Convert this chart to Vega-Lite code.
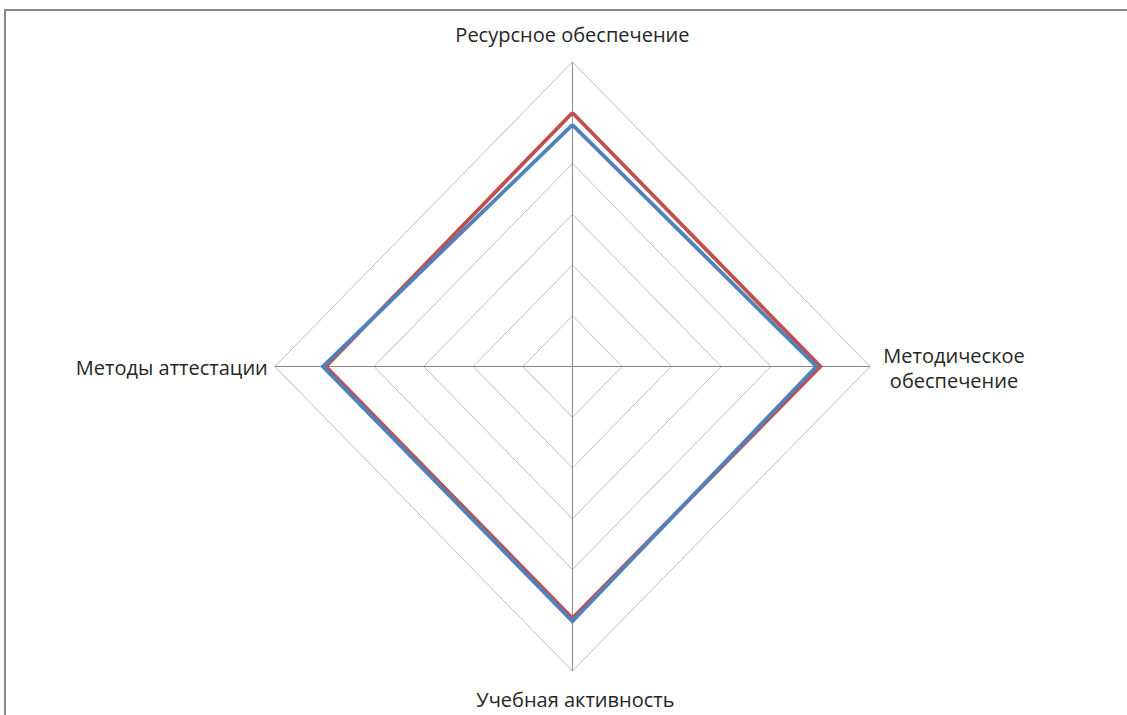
{
  "$schema": "https://vega.github.io/schema/vega-lite/v6.json",
  "width": 1128,
  "height": 711,
  "padding": {"left": 5, "top": 10, "right": -6, "bottom": -6},
  "autosize": {"type": "none"},
  "background": "white",
  "config": {
    "view": {"stroke": "#898989", "strokeWidth": 2},
    "font": "Open Sans"
  },
  "datasets": {
    "grid": [
      {"ring": 1, "k": 0}, {"ring": 1, "k": 1}, {"ring": 1, "k": 2}, {"ring": 1, "k": 3}, {"ring": 1, "k": 4},
      {"ring": 2, "k": 0}, {"ring": 2, "k": 1}, {"ring": 2, "k": 2}, {"ring": 2, "k": 3}, {"ring": 2, "k": 4},
      {"ring": 3, "k": 0}, {"ring": 3, "k": 1}, {"ring": 3, "k": 2}, {"ring": 3, "k": 3}, {"ring": 3, "k": 4},
      {"ring": 4, "k": 0}, {"ring": 4, "k": 1}, {"ring": 4, "k": 2}, {"ring": 4, "k": 3}, {"ring": 4, "k": 4},
      {"ring": 5, "k": 0}, {"ring": 5, "k": 1}, {"ring": 5, "k": 2}, {"ring": 5, "k": 3}, {"ring": 5, "k": 4},
      {"ring": 6, "k": 0}, {"ring": 6, "k": 1}, {"ring": 6, "k": 2}, {"ring": 6, "k": 3}, {"ring": 6, "k": 4}
    ],
    "spokes": [
      {"k": 0, "r": 0}, {"k": 0, "r": 6},
      {"k": 1, "r": 0}, {"k": 1, "r": 6},
      {"k": 2, "r": 0}, {"k": 2, "r": 6},
      {"k": 3, "r": 0}, {"k": 3, "r": 6}
    ],
    "series": [
      {"series": "Ряд1", "k": 0, "value": 5.0},
      {"series": "Ряд1", "k": 1, "value": 5.0},
      {"series": "Ряд1", "k": 2, "value": 4.96},
      {"series": "Ряд1", "k": 3, "value": 4.97},
      {"series": "Ряд1", "k": 4, "value": 5.0},
      {"series": "Ряд2", "k": 0, "value": 4.76},
      {"series": "Ряд2", "k": 1, "value": 4.92},
      {"series": "Ряд2", "k": 2, "value": 5.02},
      {"series": "Ряд2", "k": 3, "value": 5.03},
      {"series": "Ряд2", "k": 4, "value": 4.76}
    ],
    "labels": [
      {"k": 0, "r": 6, "label": "Ресурсное обеспечение"},
      {"k": 1, "r": 6, "label": "Методическое\nобеспечение"},
      {"k": 2, "r": 6, "label": "Учебная активность"},
      {"k": 3, "r": 6, "label": "Методы аттестации"}
    ]
  },
  "layer": [
    {
      "data": {"name": "grid"},
      "transform": [
        {"calculate": "datum.ring * sin(datum.k * PI / 2)", "as": "px"},
        {"calculate": "datum.ring * cos(datum.k * PI / 2)", "as": "py"}
      ],
      "mark": {"type": "line", "stroke": "#bfbfbf", "strokeWidth": 1},
      "encoding": {
        "x": {"field": "px", "type": "quantitative", "scale": {"domain": [-11.44, 11.302], "nice": false, "zero": false}, "axis": null},
        "y": {"field": "py", "type": "quantitative", "scale": {"domain": [-6.985, 7.025], "nice": false, "zero": false}, "axis": null},
        "detail": {"field": "ring", "type": "nominal"},
        "order": {"field": "k", "type": "quantitative"}
      }
    },
    {
      "data": {"name": "spokes"},
      "transform": [
        {"calculate": "datum.r * sin(datum.k * PI / 2)", "as": "px"},
        {"calculate": "datum.r * cos(datum.k * PI / 2)", "as": "py"}
      ],
      "mark": {"type": "line", "stroke": "#868686", "strokeWidth": 1},
      "encoding": {
        "x": {"field": "px", "type": "quantitative", "axis": null},
        "y": {"field": "py", "type": "quantitative", "axis": null},
        "detail": {"field": "k", "type": "nominal"},
        "order": {"field": "r", "type": "quantitative"}
      }
    },
    {
      "data": {"name": "series"},
      "transform": [
        {"calculate": "datum.value * sin(datum.k * PI / 2)", "as": "px"},
        {"calculate": "datum.value * cos(datum.k * PI / 2)", "as": "py"}
      ],
      "mark": {"type": "line", "strokeWidth": 3.8, "strokeJoin": "miter"},
      "encoding": {
        "x": {"field": "px", "type": "quantitative", "axis": null},
        "y": {"field": "py", "type": "quantitative", "axis": null},
        "color": {"field": "series", "type": "nominal", "scale": {"domain": ["Ряд1", "Ряд2"], "range": ["#c0504d", "#4f81bd"]}, "legend": null},
        "order": {"field": "k", "type": "quantitative"}
      }
    },
    {
      "data": {"name": "labels"},
      "transform": [
        {"filter": "datum.k == 0"},
        {"calculate": "datum.r * sin(datum.k * PI / 2)", "as": "px"},
        {"calculate": "datum.r * cos(datum.k * PI / 2)", "as": "py"}
      ],
      "mark": {"type": "text", "align": "center", "baseline": "alphabetic", "dy": -20, "fontSize": 20, "color": "#262626"},
      "encoding": {
        "x": {"field": "px", "type": "quantitative", "axis": null},
        "y": {"field": "py", "type": "quantitative", "axis": null},
        "text": {"field": "label"}
      }
    },
    {
      "data": {"name": "labels"},
      "transform": [
        {"filter": "datum.k == 2"},
        {"calculate": "datum.r * sin(datum.k * PI / 2)", "as": "px"},
        {"calculate": "datum.r * cos(datum.k * PI / 2)", "as": "py"}
      ],
      "mark": {"type": "text", "align": "center", "baseline": "alphabetic", "dy": 36, "dx": 3, "fontSize": 20, "color": "#262626"},
      "encoding": {
        "x": {"field": "px", "type": "quantitative", "axis": null},
        "y": {"field": "py", "type": "quantitative", "axis": null},
        "text": {"field": "label"}
      }
    },
    {
      "data": {"name": "labels"},
      "transform": [
        {"filter": "datum.k == 1"},
        {"calculate": "datum.r * sin(datum.k * PI / 2)", "as": "px"},
        {"calculate": "datum.r * cos(datum.k * PI / 2)", "as": "py"}
      ],
      "mark": {"type": "text", "align": "center", "baseline": "alphabetic", "dx": 84, "dy": -3.5, "lineBreak": "\n", "lineHeight": 25, "fontSize": 20, "color": "#262626"},
      "encoding": {
        "x": {"field": "px", "type": "quantitative", "axis": null},
        "y": {"field": "py", "type": "quantitative", "axis": null},
        "text": {"field": "label"}
      }
    },
    {
      "data": {"name": "labels"},
      "transform": [
        {"filter": "datum.k == 3"},
        {"calculate": "datum.r * sin(datum.k * PI / 2)", "as": "px"},
        {"calculate": "datum.r * cos(datum.k * PI / 2)", "as": "py"}
      ],
      "mark": {"type": "text", "align": "right", "baseline": "alphabetic", "dx": -7, "dy": 8, "fontSize": 20, "color": "#262626"},
      "encoding": {
        "x": {"field": "px", "type": "quantitative", "axis": null},
        "y": {"field": "py", "type": "quantitative", "axis": null},
        "text": {"field": "label"}
      }
    }
  ]
}
